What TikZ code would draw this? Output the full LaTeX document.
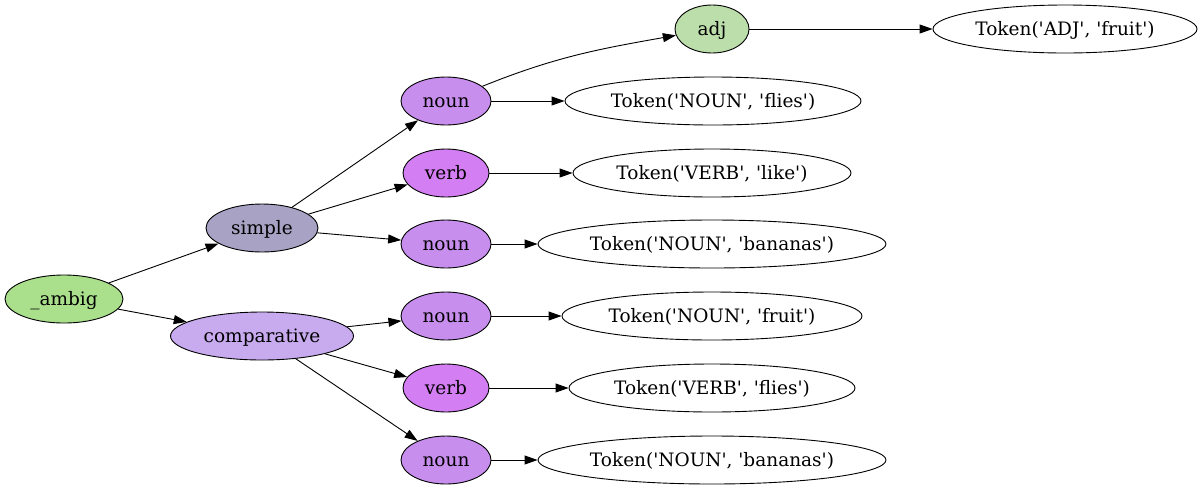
\documentclass[tikz,border=0pt]{standalone}
\usepackage{fontspec}
\setmainfont{DejaVu Serif}
\usetikzlibrary{shapes.geometric,arrows.meta}
\definecolor{cambig}{RGB}{170,223,140}
\definecolor{csimple}{RGB}{168,162,196}
\definecolor{ccomp}{RGB}{200,170,238}
\definecolor{cnoun}{RGB}{200,142,238}
\definecolor{cverb}{RGB}{212,126,244}
\definecolor{cadj}{RGB}{187,222,170}
\newcommand{\qq}{\textquotesingle}
\begin{document}
\begin{tikzpicture}[x=1pt,y=-1pt,
  nd/.style={ellipse,draw=black,line width=0.9pt,inner sep=0pt,minimum height=48pt,text height=14.5pt,text depth=2.5pt,font=\fontsize{18.5}{22}\selectfont},
  edge/.style={draw=black,line width=0.9pt,-{Triangle[length=13pt,width=9pt]}}]
\useasboundingbox (0,0) rectangle (1201,491);
\node[nd,fill=cambig,minimum width=118pt] (ambig) at (64,299) {\_ambig};
\node[nd,fill=csimple,minimum width=112pt] (simple) at (262,228) {simple};
\node[nd,fill=ccomp,minimum width=183pt] (comp) at (262,336) {comparative};
\node[nd,fill=cnoun,minimum width=90pt] (n1) at (446,101) {noun};
\node[nd,fill=cverb,minimum width=86pt] (v1) at (446,173) {verb};
\node[nd,fill=cnoun,minimum width=90pt] (n2) at (446,244) {noun};
\node[nd,fill=cnoun,minimum width=90pt] (n3) at (446,316) {noun};
\node[nd,fill=cverb,minimum width=86pt] (v2) at (446,388) {verb};
\node[nd,fill=cnoun,minimum width=90pt] (n4) at (446,460) {noun};
\node[nd,fill=cadj,minimum width=74pt] (adj) at (712,29) {adj};
\node[nd,minimum width=264pt] (t0) at (1065,29) {Token(\qq ADJ\qq, \qq fruit\qq)};
\node[nd,minimum width=296pt] (t1) at (713,101) {Token(\qq NOUN\qq, \qq f{}lies\qq)};
\node[nd,minimum width=278pt] (t2) at (712,173) {Token(\qq VERB\qq, \qq like\qq)};
\node[nd,minimum width=348pt] (t3) at (712,244) {Token(\qq NOUN\qq, \qq bananas\qq)};
\node[nd,minimum width=300pt] (t4) at (712,316) {Token(\qq NOUN\qq, \qq fruit\qq)};
\node[nd,minimum width=286pt] (t5) at (712,388) {Token(\qq VERB\qq, \qq f{}lies\qq)};
\node[nd,minimum width=348pt] (t6) at (712,460) {Token(\qq NOUN\qq, \qq bananas\qq)};
\draw[edge] (ambig) -- (simple);
\draw[edge] (ambig) -- (comp);
\draw[edge] (simple) -- (n1);
\draw[edge] (simple) -- (v1);
\draw[edge] (simple) -- (n2);
\draw[edge] (comp) -- (n3);
\draw[edge] (comp) -- (v2);
\draw[edge] (comp) -- (n4);
\draw[edge] (n1) to[out=22,in=190] (adj);
\draw[edge] (adj) -- (t0);
\draw[edge] (n1) -- (t1);
\draw[edge] (v1) -- (t2);
\draw[edge] (n2) -- (t3);
\draw[edge] (n3) -- (t4);
\draw[edge] (v2) -- (t5);
\draw[edge] (n4) -- (t6);
\end{tikzpicture}
\end{document}
